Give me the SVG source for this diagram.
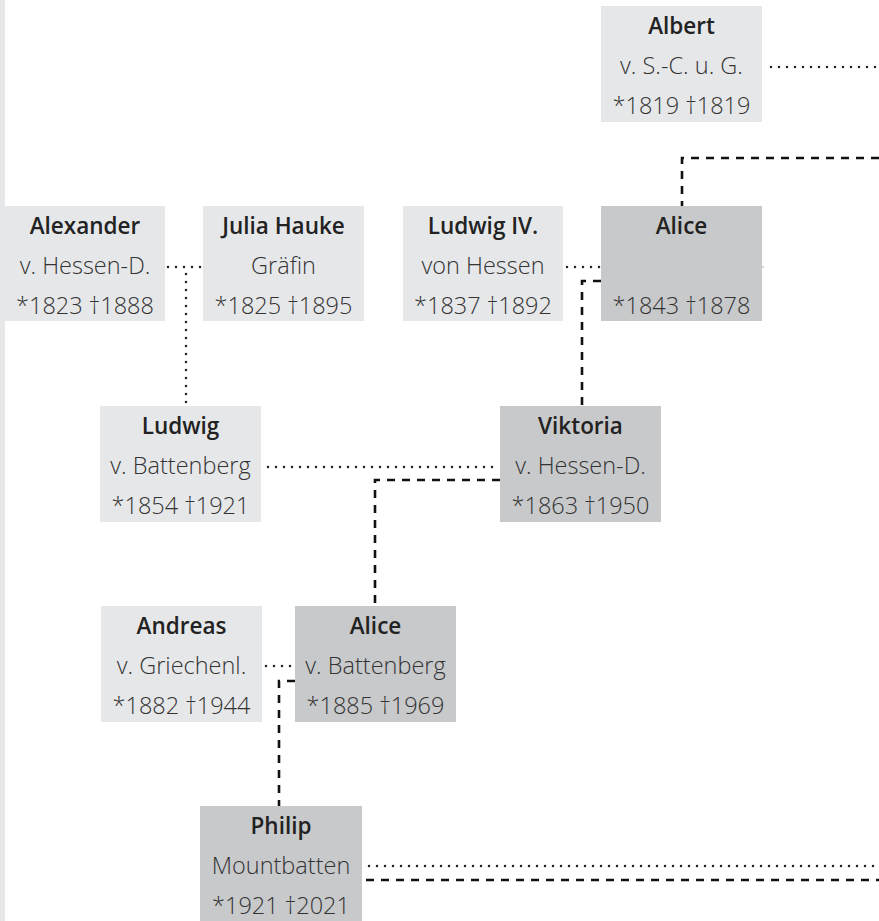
<svg xmlns="http://www.w3.org/2000/svg" width="879" height="921" viewBox="0 0 879 921">
<style>
.l{fill:#e6e7e9}
.d{fill:#c8c9cb}
.n{font-family:"Open Sans","Liberation Sans",sans-serif;font-weight:600;font-size:22.5px;fill:#222;text-anchor:middle}
.t{font-family:"Open Sans","Liberation Sans",sans-serif;font-weight:300;font-size:23.5px;fill:#333;text-anchor:middle}
.dot{fill:none;stroke:#222;stroke-width:2.5;stroke-linecap:round;stroke-dasharray:0 8}
.dash{fill:none;stroke:#111;stroke-width:2.6;stroke-dasharray:8 7}
</style>
<rect x="0" y="0" width="5" height="921" class="l"/>
<g id="connectors">
<line x1="759" y1="267" x2="764" y2="267" stroke="#aaa" stroke-width="1"/>
<path class="dot" d="M771,67 H879"/>
<path class="dash" d="M879,158 H682 V206"/>
<path class="dot" d="M168,267 H202"/>
<path class="dot" d="M186,274 V405"/>
<path class="dot" d="M567,267 H600"/>
<path class="dash" d="M601,281 H582 V406"/>
<path class="dot" d="M268,467 H499"/>
<path class="dash" d="M500,480 H375 V606"/>
<path class="dot" d="M266,666 H294"/>
<path class="dash" d="M295,681 H279 V806"/>
<path class="dot" d="M369,866 H879"/>
<path class="dash" d="M366,880 H879"/>
</g>
<g id="albert"><rect class="l" x="601" y="6" width="161" height="116"/>
<text class="n" x="681.5" y="34">Albert</text><text class="t" x="681.5" y="74">v. S.-C. u. G.</text><text class="t" x="681.5" y="114">*1819 †1819</text></g>
<g id="alexander"><rect class="l" x="0" y="206" width="165" height="115"/>
<text class="n" x="85" y="234">Alexander</text><text class="t" x="85" y="274">v. Hessen-D.</text><text class="t" x="85" y="314">*1823 †1888</text></g>
<g id="julia"><rect class="l" x="203" y="206" width="161" height="115"/>
<text class="n" x="283.5" y="234">Julia Hauke</text><text class="t" x="283.5" y="274">Gräfin</text><text class="t" x="283.5" y="314">*1825 †1895</text></g>
<g id="ludwig4"><rect class="l" x="403" y="206" width="160" height="115"/>
<text class="n" x="483" y="234">Ludwig IV.</text><text class="t" x="483" y="274">von Hessen</text><text class="t" x="483" y="314">*1837 †1892</text></g>
<g id="alice1"><rect class="d" x="601" y="206" width="161" height="115"/>
<text class="n" x="681.5" y="234">Alice</text><text class="t" x="681.5" y="314">*1843 †1878</text></g>
<g id="ludwigb"><rect class="l" x="100" y="406" width="161" height="116"/>
<text class="n" x="180.5" y="434">Ludwig</text><text class="t" x="180.5" y="474">v. Battenberg</text><text class="t" x="180.5" y="514">*1854 †1921</text></g>
<g id="viktoria"><rect class="d" x="500" y="406" width="161" height="116"/>
<text class="n" x="580.5" y="434">Viktoria</text><text class="t" x="580.5" y="474">v. Hessen-D.</text><text class="t" x="580.5" y="514">*1863 †1950</text></g>
<g id="andreas"><rect class="l" x="101" y="606" width="161" height="116"/>
<text class="n" x="181.5" y="634">Andreas</text><text class="t" x="181.5" y="674">v. Griechenl.</text><text class="t" x="181.5" y="714">*1882 †1944</text></g>
<g id="alice3"><rect class="d" x="295" y="606" width="161" height="116"/>
<text class="n" x="375.5" y="634">Alice</text><text class="t" x="375.5" y="674">v. Battenberg</text><text class="t" x="375.5" y="714">*1885 †1969</text></g>
<g id="philip"><rect class="d" x="200" y="806" width="162" height="115"/>
<text class="n" x="281" y="834">Philip</text><text class="t" x="281" y="874">Mountbatten</text><text class="t" x="281" y="914">*1921 †2021</text></g>
</svg>
